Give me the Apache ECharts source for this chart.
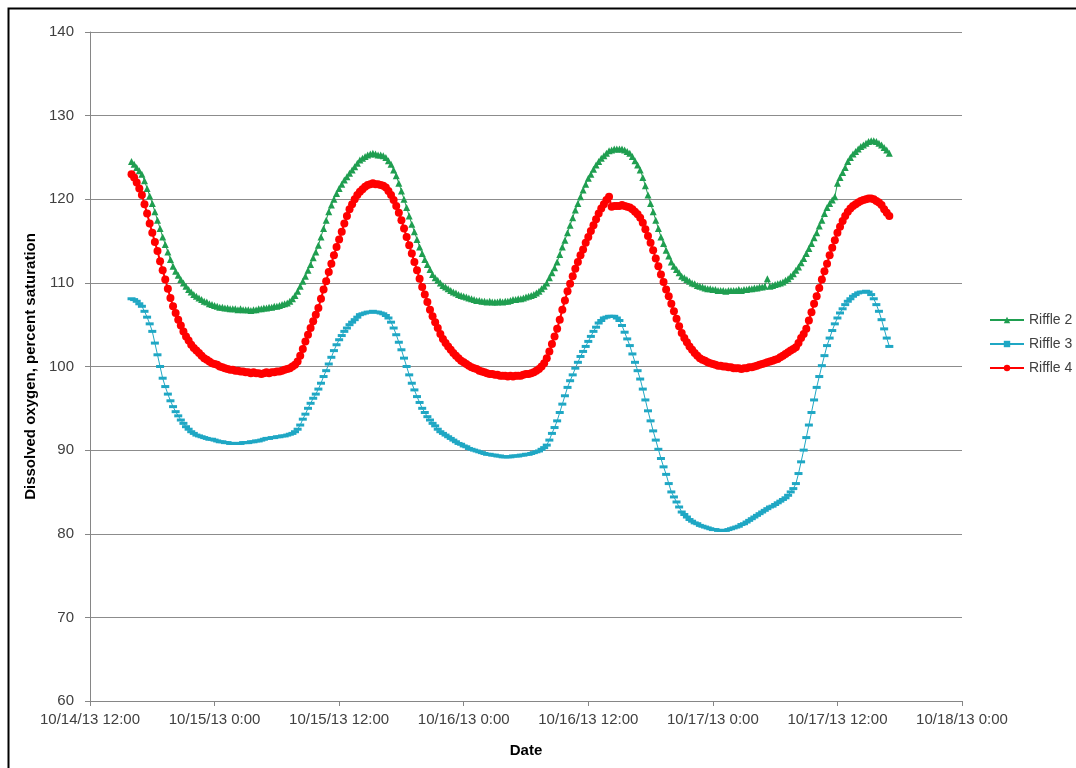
<!DOCTYPE html>
<html>
<head>
<meta charset="utf-8">
<script src="https://cdn.jsdelivr.net/npm/echarts@6/dist/echarts.min.js"></script>
<style>html,body{margin:0;padding:0;background:#fff}#c{width:1076px;height:768px}</style>
</head>
<body>
<div id="c"></div>
<script>
// Sampling: every 15 minutes starting 10/14/13 16:00 (UTC used as local clock)
const startTime = Date.UTC(2013, 9, 14, 16, 0);
const stepMinutes = 15;
const seriesNames = ['Riffle 2', 'Riffle 3', 'Riffle 4'];
const yTicks = [60, 70, 80, 90, 100, 110, 120, 130, 140];
const xTickLabels = ['10/14/13 12:00','10/15/13 0:00','10/15/13 12:00','10/16/13 0:00','10/16/13 12:00','10/17/13 0:00','10/17/13 12:00','10/18/13 0:00'];

const riffle2 = [
124.5,124.2,123.8,123.4,
123.0,122.2,121.3,120.4,
119.5,118.5,117.5,116.5,
115.5,114.6,113.7,112.8,
112.0,111.4,110.9,110.4,
110.0,109.6,109.2,108.9,
108.6,108.4,108.2,108.0,
107.8,107.7,107.5,107.4,
107.3,107.2,107.1,107.1,
107.0,107.0,106.9,106.9,
106.9,106.8,106.9,106.8,
106.8,106.8,106.7,106.8,
106.8,106.9,106.9,107.0,
107.0,107.1,107.1,107.2,
107.2,107.3,107.4,107.5,
107.6,107.8,108.1,108.5,
109.0,109.6,110.2,110.8,
111.5,112.2,113.0,113.7,
114.5,115.5,116.5,117.5,
118.5,119.3,120.0,120.7,
121.3,121.8,122.3,122.7,
123.1,123.5,123.9,124.3,
124.7,124.9,125.1,125.3,
125.4,125.5,125.4,125.3,
125.3,125.2,125.0,124.6,
124.2,123.5,122.8,121.9,
121.0,120.0,119.0,118.0,
117.0,116.1,115.2,114.3,
113.5,112.8,112.2,111.6,
111.0,110.6,110.3,110.0,
109.7,109.5,109.3,109.1,
108.9,108.8,108.6,108.5,
108.4,108.3,108.2,108.1,
108.0,107.9,107.9,107.8,
107.8,107.7,107.8,107.7,
107.7,107.7,107.8,107.7,
107.8,107.8,107.9,108.0,
108.0,108.1,108.1,108.2,
108.3,108.4,108.5,108.6,
108.8,109.0,109.3,109.6,
110.0,110.6,111.2,111.8,
112.5,113.4,114.3,115.1,
116.0,116.9,117.8,118.7,
119.5,120.3,121.1,121.8,
122.5,123.0,123.6,124.1,
124.5,124.9,125.2,125.5,
125.8,125.9,126.0,126.0,
126.0,126.0,125.9,125.7,
125.5,125.1,124.6,124.1,
123.5,122.6,121.6,120.5,
119.5,118.5,117.5,116.5,
115.5,114.7,113.9,113.2,
112.5,112.0,111.6,111.2,
110.8,110.6,110.4,110.2,
110.0,109.9,109.7,109.6,
109.5,109.4,109.3,109.3,
109.2,109.2,109.1,109.1,
109.1,109.0,109.1,109.1,
109.1,109.1,109.2,109.1,
109.2,109.2,109.3,109.3,
109.4,109.4,109.5,109.5,
109.6,110.5,109.6,109.7,
109.8,109.9,110.0,110.1,
110.3,110.5,110.8,111.1,
111.5,111.9,112.4,112.9,
113.5,114.1,114.7,115.4,
116.0,116.8,117.5,118.3,
119.0,119.5,119.9,120.3,
121.9,122.6,123.2,123.8,
124.5,125.0,125.4,125.7,
126.0,126.3,126.5,126.7,
126.9,127.0,127.0,126.9,
126.7,126.5,126.2,125.9,
125.5
];

const riffle3 = [
108.1,108.0,107.8,107.5,
107.2,106.6,105.9,105.1,
104.2,102.8,101.4,100.0,
98.6,97.6,96.7,95.9,
95.2,94.6,94.1,93.6,
93.2,92.8,92.5,92.2,
92.0,91.8,91.7,91.6,
91.5,91.4,91.3,91.3,
91.2,91.1,91.0,91.0,
90.9,90.9,90.8,90.8,
90.8,90.8,90.8,90.9,
90.9,90.9,91.0,91.0,
91.1,91.1,91.2,91.3,
91.4,91.4,91.5,91.5,
91.6,91.6,91.7,91.7,
91.8,91.9,92.0,92.2,
92.5,93.0,93.7,94.3,
95.0,95.6,96.2,96.7,
97.3,98.0,98.8,99.5,
100.3,101.1,101.9,102.6,
103.2,103.7,104.2,104.6,
105.0,105.3,105.6,105.9,
106.2,106.3,106.4,106.5,
106.5,106.6,106.5,106.5,
106.4,106.3,106.1,105.8,
105.3,104.6,103.8,102.9,
102.0,101.0,100.0,99.0,
98.0,97.2,96.4,95.7,
95.0,94.5,94.0,93.6,
93.2,92.9,92.5,92.2,
92.0,91.8,91.6,91.4,
91.2,91.0,90.8,90.7,
90.5,90.4,90.2,90.1,
90.0,89.9,89.8,89.7,
89.6,89.5,89.5,89.4,
89.4,89.3,89.3,89.2,
89.2,89.2,89.2,89.3,
89.3,89.3,89.4,89.4,
89.5,89.5,89.6,89.7,
89.8,89.9,90.1,90.3,
90.6,91.2,92.0,92.7,
93.5,94.5,95.5,96.5,
97.5,98.3,99.0,99.8,
100.5,101.2,101.8,102.4,
103.0,103.6,104.2,104.7,
105.2,105.5,105.8,105.9,
106.0,106.0,106.0,105.8,
105.5,104.9,104.1,103.3,
102.5,101.5,100.5,99.5,
98.5,97.3,96.0,94.7,
93.5,92.3,91.2,90.1,
89.0,88.0,87.1,86.0,
85.0,84.4,83.8,83.2,
82.6,82.3,82.0,81.7,
81.5,81.3,81.2,81.0,
80.9,80.8,80.7,80.6,
80.5,80.5,80.4,80.4,
80.4,80.4,80.5,80.6,
80.7,80.8,80.9,81.1,
81.2,81.4,81.6,81.8,
82.0,82.2,82.4,82.6,
82.8,83.0,83.2,83.3,
83.5,83.7,83.9,84.1,
84.3,84.6,85.0,85.4,
86.0,87.2,88.6,90.0,
91.5,93.0,94.5,96.0,
97.5,98.8,100.1,101.3,
102.5,103.4,104.3,105.1,
105.8,106.4,106.9,107.4,
107.8,108.1,108.4,108.6,
108.8,108.9,108.9,109.0,
108.9,108.6,108.1,107.4,
106.6,105.6,104.5,103.4,
102.4
];

const riffle4 = [
123.0,122.6,122.0,121.3,
120.5,119.4,118.3,117.1,
116.0,114.9,113.8,112.6,
111.5,110.4,109.3,108.2,
107.2,106.4,105.6,104.9,
104.2,103.6,103.1,102.6,
102.2,101.9,101.6,101.3,
101.0,100.8,100.6,100.4,
100.3,100.2,100.0,99.9,
99.8,99.7,99.6,99.6,
99.5,99.5,99.4,99.4,
99.3,99.3,99.2,99.3,
99.2,99.2,99.1,99.2,
99.3,99.2,99.3,99.3,
99.4,99.4,99.5,99.6,
99.7,99.8,100.0,100.2,
100.6,101.3,102.1,103.0,
103.8,104.6,105.4,106.2,
107.0,108.1,109.2,110.2,
111.3,112.3,113.3,114.3,
115.2,116.1,117.1,118.0,
118.8,119.4,120.0,120.5,
120.9,121.2,121.5,121.7,
121.8,121.9,121.8,121.8,
121.7,121.6,121.4,121.0,
120.5,119.9,119.2,118.4,
117.5,116.5,115.5,114.5,
113.5,112.5,111.5,110.5,
109.5,108.6,107.7,106.8,
106.0,105.3,104.6,103.9,
103.3,102.8,102.4,102.0,
101.6,101.3,101.0,100.7,
100.5,100.3,100.1,99.9,
99.8,99.7,99.5,99.4,
99.3,99.2,99.1,99.1,
99.0,99.0,98.9,98.9,
98.9,98.8,98.9,98.8,
98.9,98.9,98.9,99.0,
99.1,99.1,99.2,99.3,
99.5,99.7,100.0,100.4,
101.0,101.8,102.7,103.6,
104.5,105.6,106.8,107.9,
109.0,109.9,110.8,111.7,
112.5,113.3,114.0,114.8,
115.5,116.2,116.9,117.6,
118.3,118.9,119.4,119.9,
120.3,119.1,119.2,119.2,
119.2,119.3,119.2,119.1,
119.0,118.8,118.5,118.2,
117.8,117.2,116.4,115.6,
114.8,113.9,112.9,112.0,
111.0,110.1,109.2,108.4,
107.5,106.6,105.7,104.8,
104.0,103.4,102.9,102.4,
102.0,101.6,101.3,101.0,
100.8,100.7,100.5,100.4,
100.3,100.2,100.1,100.1,
100.0,100.0,99.9,99.9,
99.8,99.8,99.8,99.7,
99.8,99.8,99.9,99.9,
100.0,100.1,100.2,100.3,
100.4,100.5,100.6,100.7,
100.8,100.9,101.1,101.3,
101.5,101.7,101.9,102.1,
102.3,102.8,103.4,103.9,
104.5,105.5,106.5,107.5,
108.4,109.4,110.4,111.4,
112.3,113.3,114.2,115.1,
116.0,116.7,117.4,118.0,
118.5,118.9,119.2,119.4,
119.6,119.8,119.9,120.0,
120.1,120.1,120.0,119.8,
119.6,119.3,118.8,118.4,
118.0
];

const HOUR = 3600 * 1000;
const xMin = Date.UTC(2013, 9, 14, 12, 0);
const xMax = Date.UTC(2013, 9, 18, 0, 0);
function toPairs(arr) { return arr.map((v, i) => [startTime + i * stepMinutes * 60 * 1000, v]); }

const font = 'Liberation Sans, Arial, sans-serif';
const chart = echarts.init(document.getElementById('c'));
chart.setOption({
  animation: false,
  backgroundColor: '#ffffff',
  graphic: [{
    type: 'rect', left: 6, top: 6, silent: true,
    shape: { x: 0, y: 0, width: 1090, height: 790 },
    style: { fill: 'none', stroke: '#000', lineWidth: 2 }
  }],
  grid: { left: 90, right: 114, top: 32, bottom: 67, containLabel: false },
  legend: {
    orient: 'vertical', left: 984, top: 308, itemGap: 10,
    itemWidth: 34, itemHeight: 8,
    textStyle: { fontFamily: font, fontSize: 14, color: '#404040' },
    data: seriesNames
  },
  xAxis: {
    type: 'value', min: xMin, max: xMax, interval: 12 * HOUR,
    name: 'Date', nameLocation: 'middle', nameGap: 42,
    nameTextStyle: { fontFamily: font, fontSize: 15, fontWeight: 'bold', color: '#000' },
    axisLine: { lineStyle: { color: '#868686', width: 1 } },
    axisTick: { show: true, length: 5, lineStyle: { color: '#868686' } },
    splitLine: { show: false },
    axisLabel: {
      fontFamily: font, fontSize: 15, color: '#404040', margin: 11,
      formatter: function (v) { const k = Math.round((v - xMin) / (12 * HOUR)); return xTickLabels[k] || ''; }
    }
  },
  yAxis: {
    type: 'value', min: yTicks[0], max: yTicks[yTicks.length - 1], interval: 10,
    name: 'Dissolved oxygen, percent saturation', nameLocation: 'middle', nameGap: 50,
    nameTextStyle: { fontFamily: font, fontSize: 15, fontWeight: 'bold', color: '#000' },
    axisLine: { show: true, lineStyle: { color: '#868686', width: 1 } },
    axisTick: { show: true, length: 5, lineStyle: { color: '#868686' } },
    splitLine: { show: true, lineStyle: { color: '#8c8c8c', width: 1 } },
    axisLabel: { fontFamily: font, fontSize: 15, color: '#404040', margin: 16 }
  },
  series: [
    {
      name: seriesNames[0], type: 'line', data: toPairs(riffle2),
      symbol: 'triangle', symbolSize: 7, showAllSymbol: true,
      lineStyle: { color: '#1f9e50', width: 1 },
      itemStyle: { color: '#1f9e50' }, z: 3
    },
    {
      name: seriesNames[1], type: 'line', data: toPairs(riffle3),
      symbol: 'rect', symbolSize: [8, 3], showAllSymbol: true,
      lineStyle: { color: '#1fa7c4', width: 1 },
      itemStyle: { color: '#1fa7c4' }, z: 2
    },
    {
      name: seriesNames[2], type: 'line', data: toPairs(riffle4),
      symbol: 'circle', symbolSize: 8, showAllSymbol: true,
      lineStyle: { color: '#ff0000', width: 2 },
      itemStyle: { color: '#ff0000' }, z: 4
    }
  ]
});
</script>
</body>
</html>
